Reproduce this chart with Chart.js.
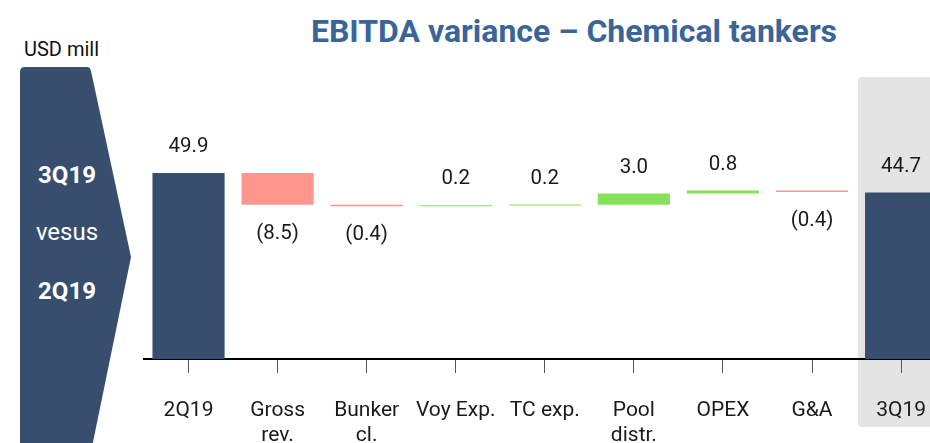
<!DOCTYPE html>
<html>
<head>
<meta charset="utf-8">
<script src="https://cdn.jsdelivr.net/npm/chart.js@4.4.0/dist/chart.umd.min.js"></script>
<style>
  html, body { margin: 0; padding: 0; background: #fff; overflow: hidden; }
  .wrap { position: relative; width: 930px; height: 443px; overflow: hidden; font-family: Roboto, "Noto Sans", sans-serif; }
  #waterfall { position: absolute; left: 0; top: 0; }
  .arrow { position: absolute; left: 0; top: 0; }
  .title { position: absolute; left: 174px; width: 800px; top: 12px; text-align: center; font-size: 32px; line-height: normal; font-weight: bold; color: #3a6599; white-space: nowrap; }
  .unit { position: absolute; left: 24px; top: 37px; font-size: 20px; line-height: normal; color: #111; }
  .side { position: absolute; left: 17px; width: 100px; text-align: center; color: #fff; font-size: 24px; line-height: normal; }
  .side.bold { font-weight: bold; }
</style>
</head>
<body>
<div class="wrap">
  <svg class="arrow" width="140" height="443">
    <path d="M20,72 Q20,67 25,67 L87,67 Q90,67 91,71 L131,257 L92,447 L20,447 Z" fill="#384e6e"></path>
  </svg>
  <div class="side bold" style="top:161px">3Q19</div>
  <div class="side" style="top:218px">vesus</div>
  <div class="side bold" style="top:277px">2Q19</div>
  <div class="unit">USD mill</div>
  <div class="title">EBITDA variance – Chemical tankers</div>
  <canvas id="waterfall" width="951" height="443"></canvas>
</div>
<script>
(function () {
  "use strict";

  var categories = [["2Q19"], ["Gross", "rev."], ["Bunker", "cl."], ["Voy Exp."], ["TC exp."], ["Pool", "distr."], ["OPEX"], ["G&A"], ["3Q19"]];
  var startTotal = 49.9;
  var changes = [-8.5, -0.4, 0.2, 0.2, 3.0, 0.8, -0.4];
  var endTotal = 44.7;

  var totalColor = "#384e6e";
  var downColor = "#ff968d";
  var upColor = "#85e05a";

  // floating bars: [from, to] for each step of the bridge
  var ranges = [[0, startTotal]];
  var shown = [startTotal];
  var colors = [totalColor];
  var level = startTotal;
  changes.forEach(function (c) {
    ranges.push([level, level + c]);
    shown.push(c);
    colors.push(c < 0 ? downColor : upColor);
    level += c;
  });
  ranges.push([0, endTotal]);
  shown.push(endTotal);
  colors.push(totalColor);

  function formatValue(v) {
    if (v < 0) return "(" + Math.abs(v).toFixed(1) + ")";
    return v.toFixed(1);
  }

  var highlightPanel = {
    id: "highlightPanel",
    beforeDraw: function (chart) {
      var ctx = chart.ctx;
      var x = chart.scales.x.getPixelForValue(categories.length - 1) - 43;
      ctx.save();
      ctx.fillStyle = "#e4e4e4";
      ctx.beginPath();
      if (ctx.roundRect) {
        ctx.roundRect(x, 77, chart.width - x + 5, 350, 4);
      } else {
        ctx.rect(x, 77, chart.width - x, 350);
      }
      ctx.fill();
      ctx.restore();
    }
  };

  var valueLabels = {
    id: "valueLabels",
    afterDatasetsDraw: function (chart) {
      var ctx = chart.ctx;
      var meta = chart.getDatasetMeta(0);
      ctx.save();
      ctx.font = "20.5px Roboto, 'Noto Sans', sans-serif";
      ctx.fillStyle = "#1a1a1a";
      ctx.textAlign = "center";
      ctx.textBaseline = "middle";
      meta.data.forEach(function (bar, i) {
        var v = shown[i];
        var top = Math.min(bar.y, bar.base);
        var bottom = Math.max(bar.y, bar.base);
        if (v < 0) {
          ctx.fillText(formatValue(v), bar.x, bottom + 29);
        } else {
          ctx.fillText(formatValue(v), bar.x, top - 26);
        }
      });
      ctx.restore();
    }
  };

  var ctx = document.getElementById("waterfall").getContext("2d");
  new Chart(ctx, {
    type: "bar",
    data: {
      labels: categories,
      datasets: [
        {
          data: ranges,
          backgroundColor: colors,
          borderWidth: 0,
          barPercentage: 0.81,
          categoryPercentage: 1,
          minBarLength: 1
        }
      ]
    },
    options: {
      responsive: false,
      animation: false,
      layout: {
        padding: { top: 135.4, left: 144, right: 0, bottom: 0 }
      },
      plugins: {
        legend: { display: false },
        tooltip: { enabled: false }
      },
      scales: {
        x: {
          afterFit: function (scale) {
            scale.height = 84;
          },
          border: { display: true, color: "#000", width: 2 },
          grid: {
            offset: false,
            drawOnChartArea: false,
            drawTicks: true,
            tickLength: 14,
            tickColor: "#555",
            tickWidth: 1
          },
          ticks: {
            padding: 25,
            maxRotation: 0,
            autoSkip: false,
            color: "#1a1a1a",
            font: { family: "Roboto, 'Noto Sans', sans-serif", size: 21, lineHeight: 1.2 }
          }
        },
        y: {
          display: false,
          min: 0,
          max: 60
        }
      }
    },
    plugins: [highlightPanel, valueLabels]
  });
})();
</script>
</body>
</html>
